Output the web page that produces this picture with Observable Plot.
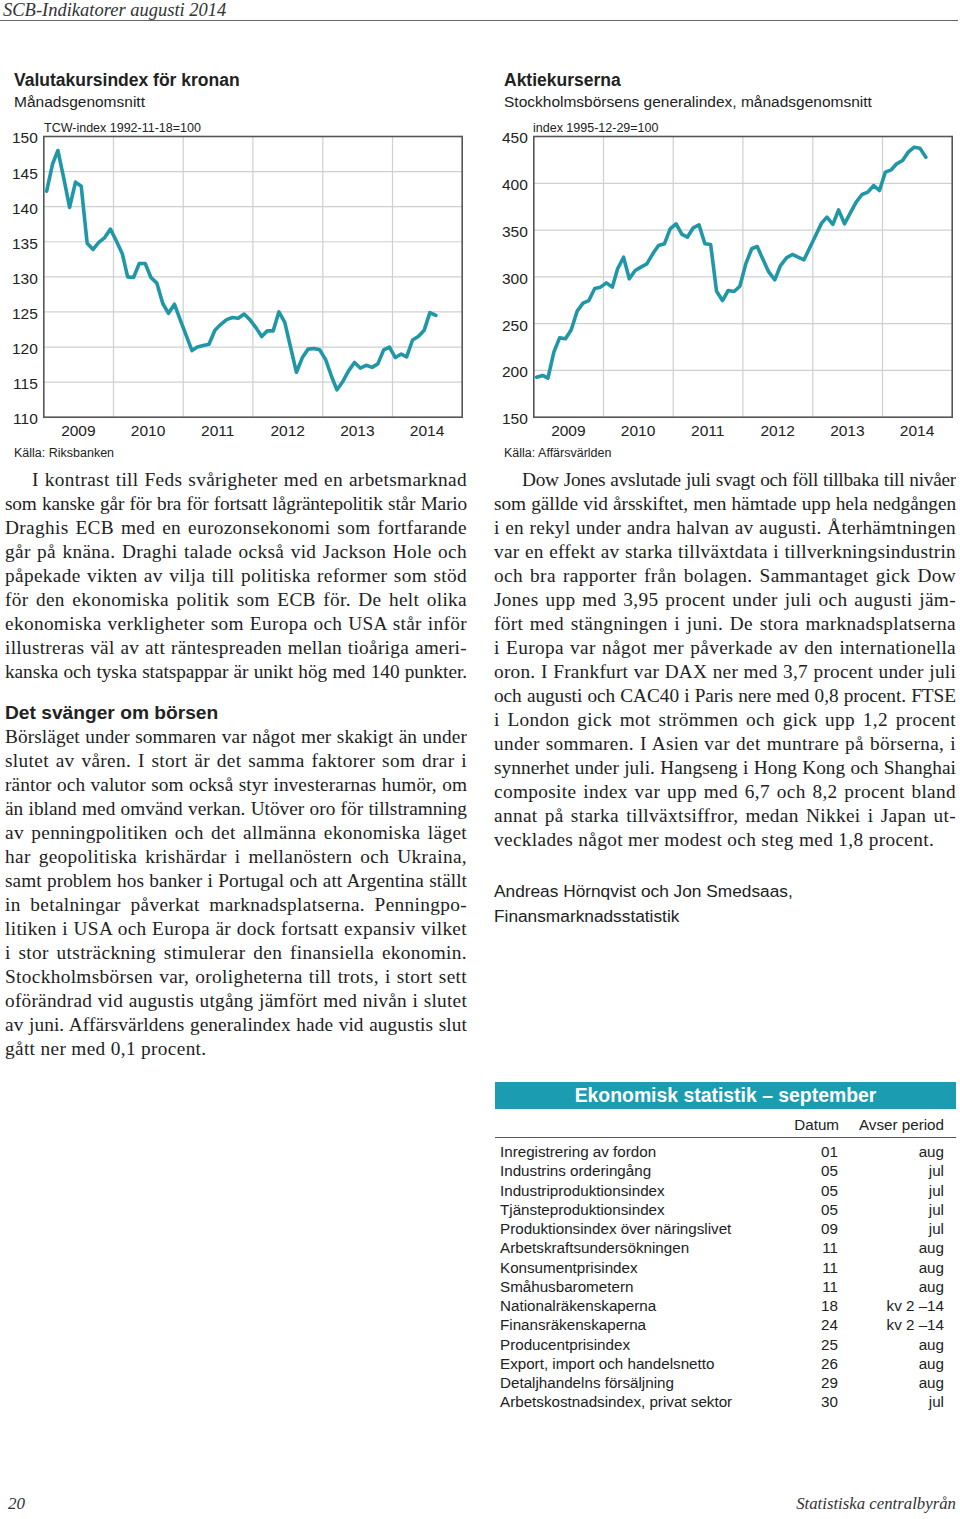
<!DOCTYPE html>
<html>
<head>
<meta charset="utf-8">
<script src="https://cdn.jsdelivr.net/npm/d3@7"></script>
<script src="https://cdn.jsdelivr.net/npm/@observablehq/plot@0.6"></script>
<style>
  html, body { margin:0; padding:0; background:#fff; }
  #page { position:relative; width:960px; height:1519px; overflow:hidden; color:#222; }
  .abs { position:absolute; white-space:nowrap; }
  .sans { font-family:"Liberation Sans", Arial, sans-serif; }
  .serif { font-family:"Liberation Serif", "Times New Roman", serif; }
  .title { font-weight:bold; font-size:17.5px; }
  .sub { font-size:15.5px; }
  .unit { font-size:12.5px; }
  .src { font-size:12.5px; }
  .para { position:absolute; font-family:"Liberation Serif", serif; font-size:19.3px; letter-spacing:0.35px; line-height:24px; color:#222; }
  .para div { height:24px; text-align:justify; text-align-last:justify; white-space:normal; overflow:hidden; }
  .para div.last { text-align-last:left; }
  .chart { position:absolute; }
  #measure { position:absolute; left:-5000px; top:0; white-space:nowrap; font-family:"Liberation Serif", serif; font-size:19.3px; }
</style>
</head>
<body>
<div id="page">
  <div class="abs serif" style="left:3px;top:1px;font-size:18.5px;line-height:18px;font-style:italic;color:#333;">SCB-Indikatorer augusti 2014</div>
  <div class="abs" style="left:0;top:19.5px;width:958px;height:0;border-top:1.5px solid #666;"></div>

  <div class="abs sans title" style="left:14px;top:70px;">Valutakursindex för kronan</div>
  <div class="abs sans sub" style="left:14px;top:93px;">Månadsgenomsnitt</div>
  <div class="abs sans unit" style="left:44px;top:121px;">TCW-index 1992-11-18=100</div>
  <div class="chart" id="chartL" style="left:0;top:115px;"></div>
  <div class="abs sans src" style="left:14px;top:446px;">Källa: Riksbanken</div>

  <div class="abs sans title" style="left:504px;top:70px;">Aktiekurserna</div>
  <div class="abs sans sub" style="left:504px;top:93px;">Stockholmsbörsens generalindex, månadsgenomsnitt</div>
  <div class="abs sans unit" style="left:533px;top:121px;">index 1995-12-29=100</div>
  <div class="chart" id="chartR" style="left:490px;top:115px;"></div>
  <div class="abs sans src" style="left:504px;top:446px;">Källa: Affärsvärlden</div>

  <div class="para" id="pL1" style="left:5px;top:468px;width:462px;"></div>
  <div class="abs sans" style="left:5px;top:702px;font-size:19.2px;font-weight:bold;">Det svänger om börsen</div>
  <div class="para" id="pL2" style="left:5px;top:725px;width:462px;"></div>
  <div class="para" id="pR1" style="left:494px;top:468px;width:462px;"></div>

  <div class="abs sans" style="left:494px;top:881px;font-size:17.3px;">Andreas Hörnqvist och Jon Smedsaas,</div>
  <div class="abs sans" style="left:494px;top:906px;font-size:17.3px;">Finansmarknadsstatistik</div>

  <div id="table" class="abs sans" style="left:495px;top:1082px;width:461px;"></div>

  <div class="abs serif" style="left:8px;top:1494px;font-size:17px;font-style:italic;color:#333;">20</div>
  <div class="abs serif" style="right:4px;top:1494px;font-size:16.8px;font-style:italic;color:#333;">Statistiska centralbyrån</div>
  <span id="measure"></span>
</div>

<script>
// ---------- Data ----------
const startYear = 2009;
const kronaIndex = [142.2,146.1,148.0,144.0,139.9,143.5,142.9,134.8,133.9,134.9,135.6,136.8,
  135.1,133.3,130.0,129.9,131.9,131.9,129.9,129.1,126.2,124.8,126.1,123.9,
  121.7,119.5,120.0,120.2,120.4,122.4,123.2,123.9,124.2,124.1,124.7,123.9,
  122.8,121.5,122.3,122.3,125.0,123.5,120.0,116.4,118.5,119.7,119.8,119.6,
  118.2,115.8,113.9,115.1,116.6,117.8,117.0,117.4,117.1,117.6,119.6,120.0,
  118.5,119.0,118.6,121.0,121.5,122.4,124.9,124.5];
const stockIndex = [192.8,194.6,191.7,219.5,234.8,233.8,243.4,263.3,271.9,274.7,287.5,289.0,
  293.6,289.0,308.6,321.0,297.9,306.8,310.4,313.9,324.6,333.5,335.3,351.3,
  356.7,345.3,342.4,352.4,355.6,335.3,334.6,284.7,274.7,285.4,284.3,290.0,
  313.9,330.0,332.4,318.2,305.0,296.8,312.1,320.3,323.9,321.0,318.2,331.0,
  344.2,357.4,363.8,356.0,371.6,356.7,368.1,379.8,388.0,390.5,397.6,392.3,
  411.9,414.4,420.8,424.4,433.3,438.6,437.5,427.9];
const yearLabels = [2009, 2010, 2011, 2012, 2013, 2014];
const yearGrid = [2010, 2011, 2012, 2013, 2014];
const kronaTicks = [110,115,120,125,130,135,140,145,150];
const stockTicks = [150,200,250,300,350,400,450];

const tableRows = ["Inregistrering av fordon","Industrins orderingång","Industriproduktionsindex",
  "Tjänsteproduktionsindex","Produktionsindex över näringslivet","Arbetskraftsundersökningen",
  "Konsumentprisindex","Småhusbarometern","Nationalräkenskaperna","Finansräkenskaperna",
  "Producentprisindex","Export, import och handelsnetto","Detaljhandelns försäljning",
  "Arbetskostnadsindex, privat sektor"];
const tableDates = ["01","05","05","05","09","11","11","11","18","24","25","26","29","30"];
const tablePeriods = ["aug","jul","jul","jul","jul","aug","aug","aug","kv 2 –14","kv 2 –14","aug","aug","aug","jul"];

const paraL1 = ["I kontrast till Feds svårigheter med en arbetsmarknad",
"som kanske går för bra för fortsatt lågräntepolitik står Mario",
"Draghis ECB med en eurozonsekonomi som fortfarande",
"går på knäna. Draghi talade också vid Jackson Hole och",
"påpekade vikten av vilja till politiska reformer som stöd",
"för den ekonomiska politik som ECB för. De helt olika",
"ekonomiska verkligheter som Europa och USA står inför",
"illustreras väl av att räntespreaden mellan tioåriga ameri-",
"kanska och tyska statspappar är unikt hög med 140 punkter."];
const paraL2 = ["Börsläget under sommaren var något mer skakigt än under",
"slutet av våren. I stort är det samma faktorer som drar i",
"räntor och valutor som också styr investerarnas humör, om",
"än ibland med omvänd verkan. Utöver oro för tillstramning",
"av penningpolitiken och det allmänna ekonomiska läget",
"har geopolitiska krishärdar i mellanöstern och Ukraina,",
"samt problem hos banker i Portugal och att Argentina ställt",
"in betalningar påverkat marknadsplatserna. Penningpo-",
"litiken i USA och Europa är dock fortsatt expansiv vilket",
"i stor utsträckning stimulerar den finansiella ekonomin.",
"Stockholmsbörsen var, oroligheterna till trots, i stort sett",
"oförändrad vid augustis utgång jämfört med nivån i slutet",
"av juni. Affärsvärldens generalindex hade vid augustis slut",
"gått ner med 0,1 procent."];
const paraR1 = ["Dow Jones avslutade juli svagt och föll tillbaka till nivåer",
"som gällde vid årsskiftet, men hämtade upp hela nedgången",
"i en rekyl under andra halvan av augusti. Återhämtningen",
"var en effekt av starka tillväxtdata i tillverkningsindustrin",
"och bra rapporter från bolagen. Sammantaget gick Dow",
"Jones upp med 3,95 procent under juli och augusti jäm-",
"fört med stängningen i juni. De stora marknadsplatserna",
"i Europa var något mer påverkade av den internationella",
"oron. I Frankfurt var DAX ner med 3,7 procent under juli",
"och augusti och CAC40 i Paris nere med 0,8 procent. FTSE",
"i London gick mot strömmen och gick upp 1,2 procent",
"under sommaren. I Asien var det muntrare på börserna, i",
"synnerhet under juli. Hangseng i Hong Kong och Shanghai",
"composite index var upp med 6,7 och 8,2 procent bland",
"annat på starka tillväxtsiffror, medan Nikkei i Japan ut-",
"vecklades något mer modest och steg med 1,8 procent."];

// ---------- Paragraphs ----------
const measure = document.getElementById("measure");
function fillPara(id, lines, indent, lastLeft) {
  const el = document.getElementById(id);
  const W = 462;
  lines.forEach((t, i) => {
    const d = document.createElement("div");
    d.textContent = t;
    const ind = (i === 0 && indent) ? indent : 0;
    if (ind) d.style.textIndent = ind + "px";
    if (i === lines.length - 1 && lastLeft) d.className = "last";
    let ls = 0.35;
    measure.textContent = t;
    for (let k = 0; k < 40; k++) {
      measure.style.letterSpacing = ls + "px";
      if (measure.getBoundingClientRect().width <= W - ind - 3) break;
      ls -= 0.05;
    }
    d.style.letterSpacing = ls + "px";
    el.appendChild(d);
  });
}
fillPara("pL1", paraL1, 27, false);
fillPara("pL2", paraL2, 0, true);
fillPara("pR1", paraR1, 28, true);

// ---------- Charts ----------
const lineColor = "#1f97a6";
const monthDate = i => new Date(Date.UTC(startYear, i, 16));
function makeChart(values, ticks, domainY, width, marginRight) {
  const data = values.map((v, i) => ({date: monthDate(i), value: v}));
  return Plot.plot({
    width, height: 330,
    marginLeft: 43.3, marginRight, marginTop: 21, marginBottom: 28.3,
    style: {fontFamily: "'Liberation Sans', Arial, sans-serif", fontSize: "15px", color: "#222", background: "transparent"},
    x: {type: "utc", domain: [new Date(Date.UTC(startYear, 0, 1)), new Date(Date.UTC(2015, 0, 1))], axis: null},
    y: {domain: domainY, axis: null},
    marks: [
      Plot.ruleY(ticks.slice(1, -1), {stroke: "#d0d0d0", strokeWidth: 1.2}),
      Plot.ruleX(yearGrid.map(y => new Date(Date.UTC(y, 0, 1))), {stroke: "#d0d0d0", strokeWidth: 1.2}),
      Plot.axisY(ticks, {tickSize: 0, tickPadding: 6, fontSize: 15.5, fill: "#222", dy: 2, label: null}),
      Plot.axisX(yearLabels.map(y => new Date(Date.UTC(y, 6, 1))), {tickSize: 0, tickPadding: 8, fontSize: 15.5, fill: "#222", tickFormat: d => String(d.getUTCFullYear()), label: null}),
      Plot.lineY(data, {x: "date", y: "value", stroke: lineColor, strokeWidth: 3.6}),
      Plot.frame({stroke: "#555", strokeWidth: 1.6})
    ]
  });
}
document.getElementById("chartL").appendChild(makeChart(kronaIndex, kronaTicks, [110, 150], 480, 18.3));
document.getElementById("chartR").appendChild(makeChart(stockIndex, stockTicks, [150, 450], 470, 8.3));

// ---------- Table ----------
const tbl = document.getElementById("table");
let html = '<div style="height:27px;background:#1c9cb1;color:#fff;font-weight:bold;font-size:19.4px;line-height:27px;text-align:center;">Ekonomisk statistik – september</div>';
html += '<div style="position:relative;height:28px;border-bottom:1.5px solid #555;font-size:15.2px;">' +
  '<span style="position:absolute;right:117px;top:7px;">Datum</span>' +
  '<span style="position:absolute;right:12px;top:7px;">Avser period</span></div>';
html += '<div style="position:relative;margin-top:4px;font-size:15.2px;">';
tableRows.forEach((r, i) => {
  html += '<div style="position:relative;height:19.27px;line-height:19.27px;">' +
    '<span style="position:absolute;left:5px;">' + r + '</span>' +
    '<span style="position:absolute;right:118px;">' + tableDates[i] + '</span>' +
    '<span style="position:absolute;right:12px;">' + tablePeriods[i] + '</span></div>';
});
html += '</div>';
tbl.innerHTML = html;
</script>
</body>
</html>
